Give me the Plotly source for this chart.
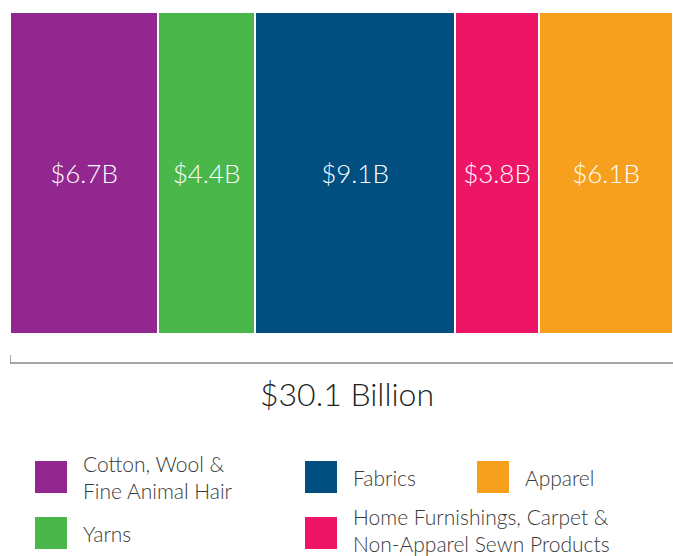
import plotly.graph_objects as go

# ---- data ----
categories = ["Cotton, Wool &<br>Fine Animal Hair", "Yarns", "Fabrics",
              "Home Furnishings, Carpet &<br>Non-Apparel Sewn Products", "Apparel"]
values_bn = [6.7, 4.4, 9.1, 3.8, 6.1]
colors = ["#92278F", "#49B74A", "#004F80", "#EE1566", "#F7A01E"]
total_bn = round(sum(values_bn), 1)

# ---- layout constants (pixels in the 673x556 window) ----
W, H = 673, 556
BAR_L, BAR_T, BAR_B = 10, 12, 334
ML, MR, MT = BAR_L, 0, BAR_T
MB = H - BAR_B
PW, PH = W - ML - MR, H - MT - MB


def px_x(x):
    return (x - ML) / PW


def px_y(y):
    return (H - MB - y) / PH


FONT = "Lato, 'Open Sans', sans-serif"

fig = go.Figure()
for cat, val, col in zip(categories, values_bn, colors):
    fig.add_trace(go.Bar(
        y=[0], x=[val], orientation="h", name=cat,
        marker=dict(color=col, line=dict(color="white", width=2)),
        text=[f"${val}B"], textposition="inside", insidetextanchor="middle",
        textangle=0, constraintext="none",
        textfont=dict(color="white", size=26, family=FONT, weight=300),
        hoverinfo="skip", showlegend=False,
    ))

shapes = []
annotations = []

# bracket under the bar
shapes.append(dict(type="path", xref="x", yref="paper",
                   path=f"M 0,{px_y(355)} L 0,{px_y(363)} L {total_bn},{px_y(363)}",
                   line=dict(color="#8a8a8a", width=1.5)))
annotations.append(dict(xref="paper", yref="paper", x=px_x(347), y=px_y(394),
                        text=f"${total_bn} Billion", showarrow=False,
                        xanchor="center", yanchor="middle",
                        font=dict(size=32, color="#222222", family=FONT, weight=300)))

# manual legend (slot positions: square left x, square top y, text centre y)
legend_slots = [(35, 461, 477), (35, 517, 533), (305, 461, 477), (305, 517, 530), (477, 461, 477)]
SQ = 32
for cat, col, (sx, sy, ty) in zip(categories, colors, legend_slots):
    shapes.append(dict(type="rect", xref="paper", yref="paper",
                       x0=px_x(sx), x1=px_x(sx + SQ), y0=px_y(sy + SQ), y1=px_y(sy),
                       fillcolor=col, line=dict(width=0)))
    annotations.append(dict(xref="paper", yref="paper", x=px_x(sx + SQ + 14),
                            y=px_y(ty), text=cat, showarrow=False,
                            xanchor="left", yanchor="middle", align="left",
                            font=dict(size=21, color="#3a3a3a", family=FONT, weight=300)))

fig.update_layout(
    width=W, height=H,
    margin=dict(l=ML, r=MR, t=MT, b=MB, pad=0),
    barmode="stack", bargap=0,
    plot_bgcolor="white", paper_bgcolor="white",
    xaxis=dict(range=[0, total_bn], visible=False, fixedrange=True),
    yaxis=dict(range=[-0.5, 0.5], visible=False, fixedrange=True),
    shapes=shapes, annotations=annotations,
    font=dict(family=FONT),
)

fig.write_html("out.html", config={"displayModeBar": False},
               post_script="document.body.style.margin='0';document.body.style.overflow='hidden';")
